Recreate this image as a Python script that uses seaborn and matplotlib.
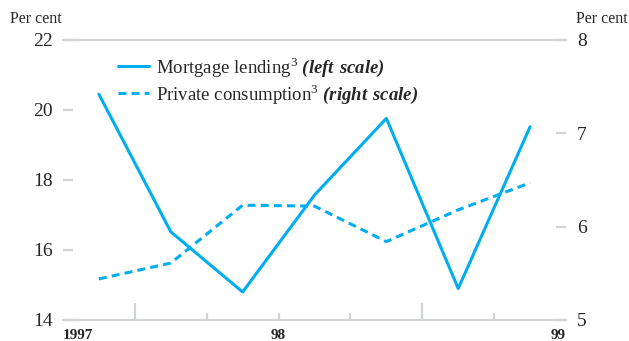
import matplotlib
matplotlib.use("Agg")
import matplotlib.pyplot as plt
import seaborn as sns
import numpy as np

# quarterly data, 1997Q2 - 1998Q4
quarters = ["1997Q2", "1997Q3", "1997Q4", "1998Q1", "1998Q2", "1998Q3", "1998Q4"]
mortgage = [20.45, 16.52, 14.8, 17.57, 19.76, 14.9, 19.52]      # left scale
consumption = [5.44, 5.61, 6.23, 6.22, 5.84, 6.18, 6.47]        # right scale
year_labels = ["1997", "98", "99"]
year_pos = [0, 3, 7]   # quarter boundaries (start of year)

blue = "#00AEEF"
grey = "#D1D3D4"

sns.set_style("white")
plt.rcParams["font.family"] = ["Liberation Serif", "DejaVu Serif"]
plt.rcParams["mathtext.fontset"] = "custom"
plt.rcParams["mathtext.rm"] = "Liberation Serif"
# sf slot used for the bold-italic "(left scale)" part so brackets stay italic too
plt.rcParams["mathtext.sf"] = "Liberation Serif:italic:bold"

fig = plt.figure(figsize=(6.29, 3.41), dpi=100)
ax = fig.add_axes([63 / 629, 21 / 341, 503 / 629, 280 / 341])
ax2 = ax.twinx()

x = np.arange(len(quarters)) + 0.5

sns.lineplot(x=x, y=mortgage, ax=ax, color=blue, linewidth=2.2,
             label=r"Mortgage lending$^{3}$ $\mathsf{(left\ scale)}$")
sns.lineplot(x=x, y=consumption, ax=ax2, color=blue, linewidth=2.2,
             label=r"Private consumption$^{3}$ $\mathsf{(right\ scale)}$")
ax2.get_lines()[0].set_dashes([2.6, 1.7])

ax.set_xlim(0, 7)
ax.set_ylim(14, 22)
ax2.set_ylim(5, 8)

for a in (ax, ax2):
    for s in a.spines.values():
        s.set_visible(False)
ax.spines["bottom"].set_visible(True)
ax.spines["top"].set_visible(True)
for s in ("bottom", "top"):
    ax.spines[s].set_color(grey)
    ax.spines[s].set_linewidth(1.6)

ax.set_yticks([14, 16, 18, 20, 22])
ax.tick_params(axis="y", direction="in", length=7, width=1.6, color=grey,
               pad=7.5, labelsize=14, left=True)
ax2.set_yticks([5, 6, 7, 8])
ax2.tick_params(axis="y", direction="in", length=7, width=1.6, color=grey,
                pad=8, labelsize=14, right=True)

ax.set_xticks([1, 5])
ax.set_xticklabels([])
ax.set_xticks([2, 3, 4, 6], minor=True)
ax.tick_params(axis="x", which="major", direction="in", length=12, width=1.6,
               color=grey, bottom=True)
ax.tick_params(axis="x", which="minor", direction="in", length=5, width=1.6,
               color=grey, bottom=True)

has = ["left", "center", "right"]
for pos, lab, ha in zip(year_pos, year_labels, has):
    ax.text(pos, -0.032, lab, transform=ax.get_xaxis_transform(), ha=ha, va="top",
            fontsize=11, fontweight="bold")

ax.set_xlabel("")
ax.set_ylabel("")
ax2.set_ylabel("")

fig.text(10 / 629, 1 - 19 / 341, "Per cent", fontsize=11.5, va="center", ha="left")
fig.text(628 / 629, 1 - 19 / 341, "Per cent", fontsize=11.5, va="center", ha="right")

h1, l1 = ax.get_legend_handles_labels()
h2, l2 = ax2.get_legend_handles_labels()
if ax.legend_:
    ax.legend_.remove()
ax2.legend(h1 + h2, l1 + l2, loc="upper left", bbox_to_anchor=(118 / 629, 1 - 55 / 341),
           bbox_transform=fig.transFigure, frameon=False, fontsize=13.5,
           handlelength=1.65, handletextpad=0.35, borderpad=0, borderaxespad=0,
           labelspacing=0.15)

fig.savefig("out.png", dpi=100)
